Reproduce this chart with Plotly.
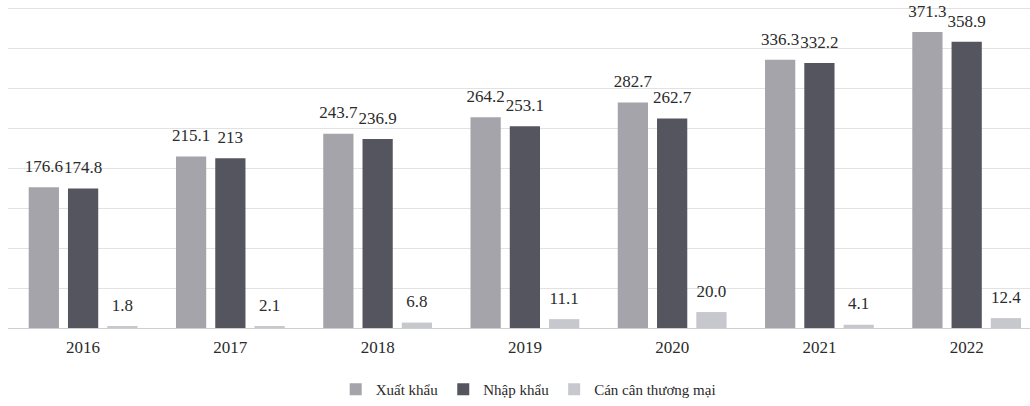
import plotly.graph_objects as go

years = ["2016", "2017", "2018", "2019", "2020", "2021", "2022"]
xuat_khau = [176.6, 215.1, 243.7, 264.2, 282.7, 336.3, 371.3]
nhap_khau = [174.8, 213.0, 236.9, 253.1, 262.7, 332.2, 358.9]
can_can = [1.8, 2.1, 6.8, 11.1, 20.0, 4.1, 12.4]

xuat_labels = ["176.6", "215.1", "243.7", "264.2", "282.7", "336.3", "371.3"]
nhap_labels = ["174.8", "213", "236.9", "253.1", "262.7", "332.2", "358.9"]
can_labels = ["1.8", "2.1", "6.8", "11.1", "20.0", "4.1", "12.4"]

series = [
    ("Xuất khẩu", xuat_khau, xuat_labels, "#a4a4aa", "a"),
    ("Nhập khẩu", nhap_khau, nhap_labels, "#55555f", "b"),
    ("Cán cân thương mại", can_can, can_labels, "#c6c8ce", "c"),
]

font_family = "Liberation Serif, Times New Roman, serif"

fig = go.Figure()
for name, vals, labels, color, grp in series:
    fig.add_trace(go.Bar(
        name=name, x=years, y=vals, offsetgroup=grp,
        marker=dict(color=color, line=dict(width=0)),
    ))
for name, vals, labels, color, grp in series:
    fig.add_trace(go.Scatter(
        x=years, y=vals, text=labels, mode="markers+text", offsetgroup=grp,
        textposition="top center", cliponaxis=False, showlegend=False,
        hoverinfo="skip",
        marker=dict(size=16, opacity=0, color=color),
        textfont=dict(family=font_family, size=17, color="#2b2b2b"),
    ))

fig.update_layout(
    width=1030, height=406,
    margin=dict(l=8, r=0, t=5, b=78),
    paper_bgcolor="white", plot_bgcolor="white",
    barmode="group", bargap=0.2, bargroupgap=0.23,
    scattermode="group", scattergap=0.2,
    font=dict(family=font_family, color="#2b2b2b"),
    showlegend=True,
    legend=dict(orientation="h", x=0.509, xanchor="center", y=-0.14, yanchor="top",
                font=dict(family=font_family, size=15, color="#2b2b2b")),
    xaxis=dict(type="category", range=[-0.51, 6.43], showgrid=False,
               showline=True, linecolor="#cfcfcf", linewidth=1, ticks="",
               ticklabelstandoff=4,
               tickfont=dict(family=font_family, size=17, color="#2b2b2b")),
    yaxis=dict(range=[0, 405], dtick=50, showticklabels=False, showgrid=True,
               gridcolor="#e2e2e2", gridwidth=1, zeroline=False),
)

fig.write_html("out.html", config={"displayModeBar": False},
               post_script="document.body.style.margin='0';")
